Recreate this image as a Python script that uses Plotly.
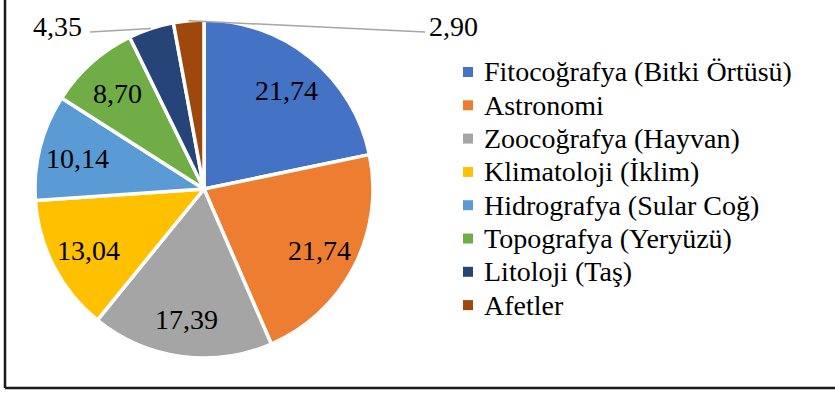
import math
import plotly.graph_objects as go

# Share of topics (percent)
categories = [
    "Fitocoğrafya (Bitki Örtüsü)",
    "Astronomi",
    "Zoocoğrafya (Hayvan)",
    "Klimatoloji (İklim)",
    "Hidrografya (Sular Coğ)",
    "Topografya (Yeryüzü)",
    "Litoloji (Taş)",
    "Afetler",
]
values = [21.74, 21.74, 17.39, 13.04, 10.14, 8.70, 4.35, 2.90]
colors = ["#4472C4", "#ED7D31", "#A5A5A5", "#FFC000",
          "#5B9BD5", "#70AD47", "#264478", "#9E480E"]
outside_labels = {6: "left", 7: "right"}  # small slices labelled outside

W, H = 835, 395
CX, CY, R = 204, 189, 169          # pie centre / radius in pixels
FONT = "Liberation Serif"


def px(x):
    return x / W


def py(y):
    return 1 - y / H


def fmt(v):
    return f"{v:.2f}".replace(".", ",")


fig = go.Figure(go.Pie(
    labels=categories,
    values=values,
    sort=False,
    direction="clockwise",
    rotation=0,
    marker=dict(colors=colors, line=dict(color="white", width=3.5)),
    textinfo="none",
    hoverinfo="label+value",
    showlegend=False,
    domain=dict(x=[px(CX - R), px(CX + R)], y=[py(CY + R), py(CY - R)]),
))

annotations = []
shapes = []
total = sum(values)
cum = 0.0
for i, v in enumerate(values):
    mid = (cum + v / 2) / total * 2 * math.pi
    cum += v
    s, c = math.sin(mid), math.cos(mid)
    if i in outside_labels:
        # leader line from slice edge to an outside label
        x0, y0 = CX + R * s, CY - R * c
        if outside_labels[i] == "left":
            x1, y1, tx, anchor = 90, 32, 84, "right"
        else:
            x1, y1, tx, anchor = 425, 32, 427, "left"
        shapes.append(dict(type="line", xref="paper", yref="paper",
                           x0=px(x0), y0=py(y0), x1=px(x1), y1=py(y1),
                           line=dict(color="#A6A6A6", width=1.5)))
        annotations.append(dict(x=px(tx), y=py(26), xref="paper", yref="paper",
                                text=fmt(v), showarrow=False, xanchor=anchor,
                                yanchor="middle",
                                font=dict(family=FONT, size=28, color="black")))
    else:
        rr = 0.77 * R
        annotations.append(dict(x=px(CX + rr * s), y=py(CY - rr * c + 2),
                                xref="paper", yref="paper", text=fmt(v),
                                showarrow=False, xanchor="center",
                                yanchor="middle",
                                font=dict(family=FONT, size=28, color="black")))

# legend: colour squares and category names
LEG_X, LEG_Y0, LEG_STEP, SQ = 468, 72, 33.3, 10
for i, (name, col) in enumerate(zip(categories, colors)):
    yc = LEG_Y0 + i * LEG_STEP
    shapes.append(dict(type="rect", xref="paper", yref="paper",
                       x0=px(LEG_X - SQ / 2), x1=px(LEG_X + SQ / 2),
                       y0=py(yc + SQ / 2), y1=py(yc - SQ / 2),
                       fillcolor=col, line=dict(width=0)))
    annotations.append(dict(x=px(482), y=py(yc), xref="paper", yref="paper",
                            text=name, showarrow=False, xanchor="left",
                            yanchor="middle",
                            font=dict(family=FONT, size=28, color="black")))

# chart frame (left and bottom edges)
shapes.append(dict(type="line", xref="paper", yref="paper",
                   x0=px(5), y0=1, x1=px(5), y1=py(388),
                   line=dict(color="#1a1a1a", width=2.5)))
shapes.append(dict(type="line", xref="paper", yref="paper",
                   x0=px(5), y0=py(388), x1=1, y1=py(388),
                   line=dict(color="#1a1a1a", width=2.5)))

fig.update_layout(
    width=W, height=H,
    margin=dict(l=0, r=0, t=0, b=0),
    paper_bgcolor="white",
    plot_bgcolor="white",
    font=dict(family=FONT),
    annotations=annotations,
    shapes=shapes,
)

fig.write_html("out.html")
